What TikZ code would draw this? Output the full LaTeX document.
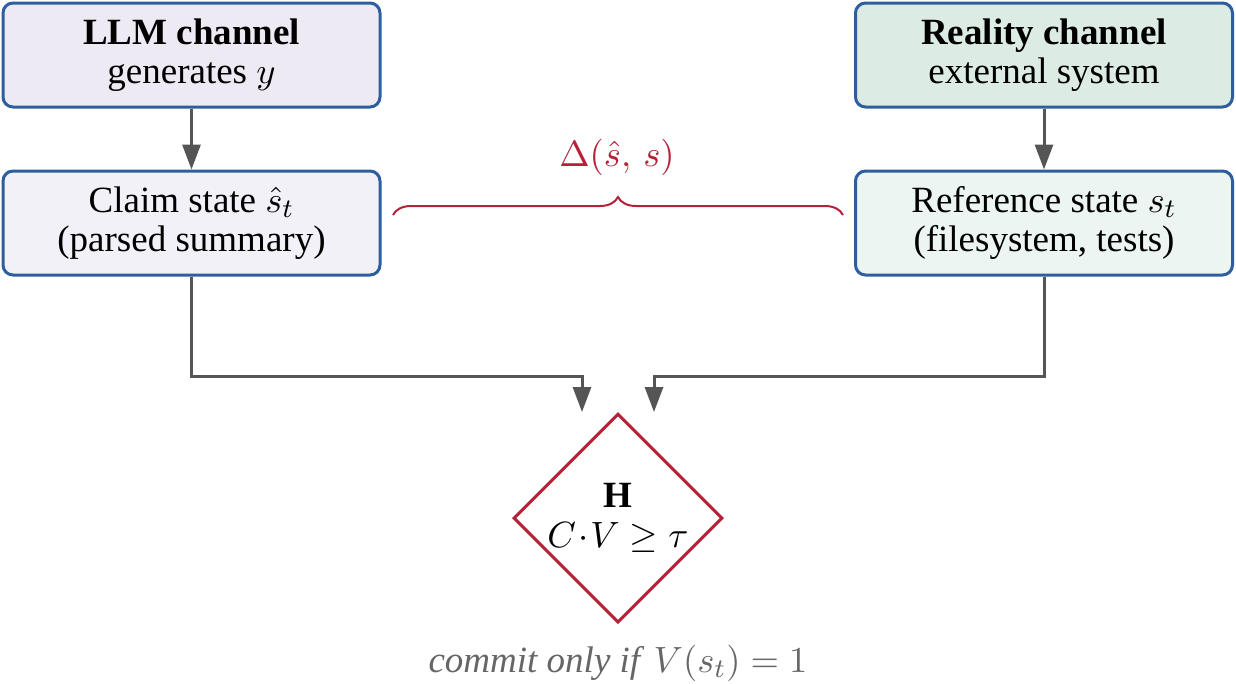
\documentclass[tikz,border=0pt]{standalone}
\usepackage{fontspec}
\setmainfont{Liberation Serif}
\usetikzlibrary{arrows.meta,shapes.geometric,decorations.pathreplacing}
\definecolor{bblue}{HTML}{2D5F9E}
\definecolor{llmfill}{HTML}{EEEAF4}
\definecolor{claimfill}{HTML}{F3F1F8}
\definecolor{realfill}{HTML}{DDEBE5}
\definecolor{reffill}{HTML}{ECF5F2}
\definecolor{hred}{HTML}{B52238}
\definecolor{agray}{HTML}{555555}
\definecolor{tgray}{HTML}{666666}
\begin{document}
\begin{tikzpicture}[x=0.3pt,y=-0.3pt,
  box/.style={draw=bblue,line width=0.9pt,rounded corners=3pt,minimum width=113.1pt,minimum height=31.2pt,inner sep=0pt,align=center,font=\fontsize{11.1}{11.9}\selectfont},
  arr/.style={draw=agray,line width=0.9pt,-{Triangle[length=7.5pt,width=5.4pt]}},
  lbl/.style={font=\fontsize{11.1}{11.9}\selectfont,inner sep=0pt}]
\useasboundingbox (0,0) rectangle (1236,683);
\node[box,fill=llmfill] (llm) at (191.5,55) {\textbf{LLM channel}\\generates $y$};
\node[box,fill=claimfill] (claim) at (191.5,223) {Claim state $\hat{s}_t$\\(parsed summary)};
\node[box,fill=realfill] (real) at (1044,55) {\textbf{Reality channel}\\external system};
\node[box,fill=reffill] (ref) at (1044,223) {Reference state $s_t$\\(filesystem, tests)};
\node[diamond,draw=hred,line width=0.9pt,fill=white,minimum width=62.7pt,minimum height=62.7pt,inner sep=0pt] (H) at (618,518) {};
\node[lbl,align=center] (Htxt) at (618,518) {$\mathbf{H}$\\$C\!\cdot\! V\geq\tau$};
\draw[arr] (llm.south) -- (claim.north);
\draw[arr] (real.south) -- (ref.north);
\coordinate (jL) at (582,376);
\coordinate (inL) at (582,412);
\coordinate (jR) at (654,376);
\coordinate (inR) at (654,412);
\draw[arr] (claim.south) |- (jL) -- (inL);
\draw[arr] (ref.south) |- (jR) -- (inR);
\coordinate (bl) at (393,215);
\coordinate (br) at (843,215);
\draw[hred,line width=0.6pt,decorate,decoration={brace,amplitude=5.4pt}] (bl) -- (br);
\node[lbl,text=hred,anchor=base] (delta) at (617,166) {$\Delta(\hat{s},\, s)$};
\node[lbl,text=tgray,anchor=base] (commit) at (618,672) {\textit{commit only if} $V(s_t)=1$};
\end{tikzpicture}
\end{document}
